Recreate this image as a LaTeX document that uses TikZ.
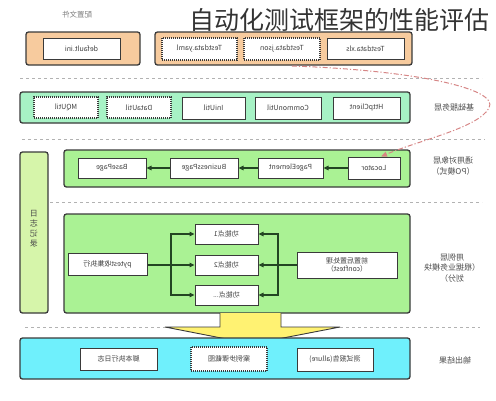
\documentclass[tikz,border=0pt]{standalone}
\usepackage{fontspec}
\setmainfont{Noto Sans CJK SC}
\usetikzlibrary{arrows.meta}
\definecolor{orangef}{HTML}{F7CB9E}
\definecolor{mintf}{HTML}{A7F2C5}
\definecolor{greenf}{HTML}{AAF294}
\definecolor{barf}{HTML}{D6F5AA}
\definecolor{cyanf}{HTML}{6FF0FC}
\definecolor{yellowf}{HTML}{FFF272}
\definecolor{edgec}{HTML}{3A3A3A}
\definecolor{arrc}{HTML}{234523}
\definecolor{redc}{HTML}{D68686}
\newcommand\mr[1]{\reflectbox{#1}}
\begin{document}
\begin{tikzpicture}[x=1pt,y=-1pt,
  panel/.style={draw=edgec, line width=1.3pt, rounded corners=2.5pt, inner sep=0pt},
  box/.style={draw=edgec, fill=white, line width=1pt, inner sep=0pt,
    font=\fontsize{7}{8.5}\selectfont, text=black!75, align=center},
  dbox/.style={box, densely dotted, line width=1.2pt},
  sep/.style={draw=black!30, dashed, line width=0.5pt},
  lab/.style={font=\fontsize{8}{10.5}\selectfont, text=black!70, align=center},
  arr/.style={draw=arrc, line width=1.1pt, -{Triangle[length=5pt,width=4.5pt]}},
  ln/.style={draw=arrc, line width=1.1pt}]
\useasboundingbox (0,0) rectangle (496,400);

% title
\node[anchor=west, inner sep=0pt, font=\fontsize{25}{25}\selectfont, text=black!80] (title) at (189,20) {自动化测试框架的性能评估};

% row 1
\node[lab, text=black!50, font=\fontsize{7.5}{8}\selectfont] (cfglab) at (77,15) {\mr{配置文件}};
\node[panel, fill=orangef, minimum width=114pt, minimum height=33pt] (cfg1) at (83,48.5) {};
\node[box, minimum width=77pt, minimum height=21pt] (ini) at (81.5,48.5) {\mr{default.ini}};
\node[panel, fill=orangef, minimum width=257pt, minimum height=33pt] (cfg2) at (283.5,48.5) {};
\node[dbox, minimum width=75pt, minimum height=22pt] (yaml) at (199.5,49) {\mr{Testdata.yaml}};
\node[dbox, minimum width=76pt, minimum height=22pt] (json) at (282,49) {\mr{Testdata.json}};
\node[box, minimum width=77pt, minimum height=21pt] (xls) at (365.5,48.5) {\mr{Testdata.xls}};

\draw[sep] (20,78) -- (482,78);

% row 2
\node[panel, fill=mintf, minimum width=390pt, minimum height=31pt] (base) at (215,107.5) {};
\node[dbox, minimum width=64pt, minimum height=21pt] (mq) at (66,107.5) {\mr{MQUtil}};
\node[dbox, minimum width=64pt, minimum height=21pt] (data) at (139,107.5) {\mr{DataUtil}};
\node[box, minimum width=63pt, minimum height=22pt] (iniu) at (213.5,108) {\mr{IniUtil}};
\node[box, minimum width=66pt, minimum height=22pt] (comm) at (288,108) {\mr{CommonUtil}};
\node[box, minimum width=67pt, minimum height=22pt] (http) at (366.5,108) {\mr{HttpClient}};
\node[lab] (baselab) at (454,107) {\mr{基础服务层}};

\draw[sep] (22,139) -- (485,139);

% log bar
\node[panel, fill=barf, minimum width=28pt, minimum height=161pt] (logbar) at (34,232.5) {};
\node[lab, font=\fontsize{8}{10}\selectfont] (logtxt) at (34,229) {\mr{日}\\\mr{志}\\\mr{记}\\\mr{录}};

% row 3
\node[panel, fill=greenf, minimum width=346pt, minimum height=37pt] (po) at (237,168.5) {};
\node[box, minimum width=68pt, minimum height=20pt] (bp) at (112,168) {\mr{BasePage}};
\node[box, minimum width=68pt, minimum height=20pt] (bus) at (204,168) {\mr{BusinessPage}};
\node[box, minimum width=65pt, minimum height=20pt] (pe) at (290.5,168) {\mr{PageElement}};
\node[box, minimum width=52pt, minimum height=22pt] (loc) at (374,168) {\mr{Locator}};
\node[lab] (polab) at (453,166) {\mr{通用对象层}\\\mr{（PO模式）}};
\draw[arr] (loc.west) -- (pe.east);
\draw[arr] (pe.west) -- (bus.east);
\draw[arr] (bus.west) -- (bp.east);

\draw[sep] (50,202) -- (482,202);

% row 4
\node[panel, fill=greenf, minimum width=346pt, minimum height=99pt] (case) at (237,263.5) {};
\node[box, minimum width=79pt, minimum height=22pt] (pyt) at (107.5,264.5) {\mr{pytest收集执行}};
\node[box, minimum width=63pt, minimum height=20pt] (f1) at (226.5,234) {\mr{功能点1}};
\node[box, minimum width=63pt, minimum height=20pt] (f2) at (226.5,265) {\mr{功能点2}};
\node[box, minimum width=63pt, minimum height=20pt] (f3) at (226.5,295) {\mr{功能点...}};
\node[box, minimum width=100pt, minimum height=26pt] (conf) at (347,265) {\mr{前置后置处理}\\\mr{（conftest）}};
\coordinate (bl) at (171,265);
\coordinate (br) at (278,265);
\draw[arr] (pyt.east |- f2.west) -- (f2.west);
\draw[arr] (bl) |- (f1.west);
\draw[arr] (bl) |- (f3.west);
\draw[arr] (conf.west) -- (f2.east);
\draw[arr] (br) |- (f1.east);
\draw[arr] (br) |- (f3.east);
\node[lab] (caselab) at (452,268) {\mr{用例层}\\\mr{（根据业务模块}\\\mr{划分）}};

% yellow arrow
\draw[draw=edgec, line width=0.9pt, fill=yellowf]
  (220,313) -- (220,327) -- (165,327) -- (252,344) -- (340,327) -- (281,327) -- (281,313);
\draw[sep] (25,327) -- (165,327);
\draw[sep] (340,327) -- (480,327);

% row 5
\node[panel, fill=cyanf, minimum width=390pt, minimum height=41pt] (out) at (215,358.5) {};
\node[box, minimum width=77pt, minimum height=22pt] (logs) at (118.5,359) {\mr{脚本执行日志}};
\node[dbox, minimum width=76pt, minimum height=24pt] (shot) at (229,359) {\mr{案例步骤截图}};
\node[box, minimum width=76pt, minimum height=23pt] (rep) at (335,359.5) {\mr{测试报告(allure)}};
\node[lab] (outlab) at (455,360) {\mr{输出结果}};

% red dashed curve
\coordinate (rs) at (292,66);
\draw[draw=redc, line width=1pt, dash pattern=on 5pt off 2pt on 1.2pt off 2pt,
  -{Triangle[length=6pt,width=5pt,fill=redc!90!orange]}]
  (rs) .. controls (410,70) and (500,88) .. (489,108)
  .. controls (478,128) and (420,140) .. ([xshift=7pt]loc.north);
\end{tikzpicture}
\end{document}
